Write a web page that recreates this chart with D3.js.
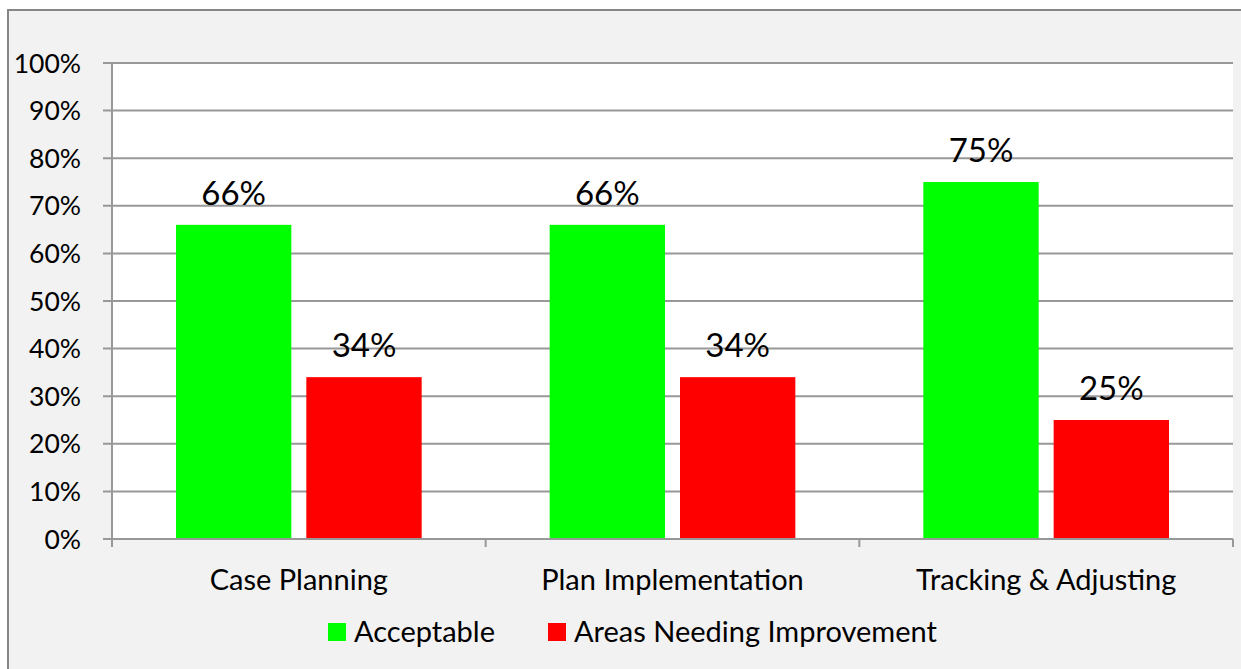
<!DOCTYPE html>
<html>
<head>
<meta charset="utf-8">
<script src="https://cdn.jsdelivr.net/npm/d3@7"></script>
<style>
  html, body { margin: 0; padding: 0; background: #ffffff; }
  svg { display: block; }
  text { font-family: Lato, "Open Sans", sans-serif; fill: #000; }
</style>
</head>
<body>
<svg id="chart" width="1241" height="669"></svg>
<script>
// Review areas and share of cases per rating
const categories = ["Case Planning", "Plan Implementation", "Tracking & Adjusting"];
const seriesNames = ["Acceptable", "Areas Needing Improvement"];
const acceptable = [66, 66, 75];
const needsImprovement = [34, 34, 25];
const yTicks = [0, 10, 20, 30, 40, 50, 60, 70, 80, 90, 100];
const colors = ["#00ff00", "#ff0000"];

const svg = d3.select("#chart");
const W = 1241, H = 669;

// Chart area frame
svg.append("rect")
  .attr("x", 8).attr("y", 10)
  .attr("width", W - 8 + 2).attr("height", H - 10 + 2)
  .attr("fill", "#f2f2f2")
  .attr("stroke", "#868686").attr("stroke-width", 2);

const plot = { left: 112, right: 1233, top: 63, bottom: 539 };

const x0 = d3.scaleBand()
  .domain(categories)
  .range([plot.left, plot.right])
  .paddingInner(0).paddingOuter(0);

const x1 = d3.scaleBand()
  .domain(seriesNames)
  .range([64, x0.bandwidth() - 64])
  .paddingInner(0.115);

const y = d3.scaleLinear().domain([0, 100]).range([plot.bottom, plot.top]);

// Plot background
svg.append("rect")
  .attr("x", plot.left).attr("y", plot.top)
  .attr("width", plot.right - plot.left).attr("height", plot.bottom - plot.top)
  .attr("fill", "#ffffff");

// Horizontal gridlines
svg.append("g")
  .selectAll("line")
  .data(yTicks)
  .join("line")
  .attr("x1", plot.left - 9).attr("x2", plot.right)
  .attr("y1", d => y(d)).attr("y2", d => y(d))
  .attr("stroke", "#989898").attr("stroke-width", 2);

// Y axis labels
svg.append("g")
  .selectAll("text")
  .data(yTicks)
  .join("text")
  .attr("x", 81).attr("y", d => y(d) + 9.5)
  .attr("text-anchor", "end")
  .attr("font-size", 26.5)
  .text(d => d + "%");

// Vertical axis line
svg.append("line")
  .attr("x1", plot.left).attr("x2", plot.left)
  .attr("y1", plot.top).attr("y2", plot.bottom + 8)
  .attr("stroke", "#989898").attr("stroke-width", 2);

// Category tick marks
const catEdges = categories.map(c => x0(c)).concat([plot.right]);
svg.append("g")
  .selectAll("line")
  .data(catEdges)
  .join("line")
  .attr("x1", d => d).attr("x2", d => d)
  .attr("y1", plot.bottom).attr("y2", plot.bottom + 8)
  .attr("stroke", "#989898").attr("stroke-width", 2);

// Bars
const rows = categories.map((c, i) => ({
  category: c,
  values: [acceptable[i], needsImprovement[i]]
}));

const groups = svg.append("g")
  .selectAll("g")
  .data(rows)
  .join("g")
  .attr("transform", d => `translate(${x0(d.category)},0)`);

groups.selectAll("rect")
  .data(d => d.values.map((v, j) => ({ key: seriesNames[j], value: v, j })))
  .join("rect")
  .attr("x", d => x1(d.key))
  .attr("y", d => y(d.value))
  .attr("width", x1.bandwidth())
  .attr("height", d => y(0) - y(d.value))
  .attr("fill", d => colors[d.j]);

// Value labels
groups.selectAll("text")
  .data(d => d.values.map((v, j) => ({ key: seriesNames[j], value: v })))
  .join("text")
  .attr("x", d => x1(d.key) + x1.bandwidth() / 2)
  .attr("y", d => y(d.value) - 20)
  .attr("text-anchor", "middle")
  .attr("font-size", 33)
  .text(d => d.value + "%");

// Baseline
svg.append("line")
  .attr("x1", plot.left).attr("x2", plot.right)
  .attr("y1", plot.bottom).attr("y2", plot.bottom)
  .attr("stroke", "#989898").attr("stroke-width", 2);

// Category labels
svg.append("g")
  .selectAll("text")
  .data(categories)
  .join("text")
  .attr("x", d => x0(d) + x0.bandwidth() / 2)
  .attr("y", 590)
  .attr("text-anchor", "middle")
  .attr("font-size", 29)
  .text(d => d);

// Legend
const legendItems = [
  { name: seriesNames[0], color: colors[0], x: 328 },
  { name: seriesNames[1], color: colors[1], x: 548 }
];
const lg = svg.append("g")
  .selectAll("g")
  .data(legendItems)
  .join("g")
  .attr("transform", d => `translate(${d.x},623)`);
lg.append("rect")
  .attr("width", 18).attr("height", 18)
  .attr("fill", d => d.color);
lg.append("text")
  .attr("x", 26).attr("y", 19)
  .attr("font-size", 29)
  .text(d => d.name);
</script>
</body>
</html>
